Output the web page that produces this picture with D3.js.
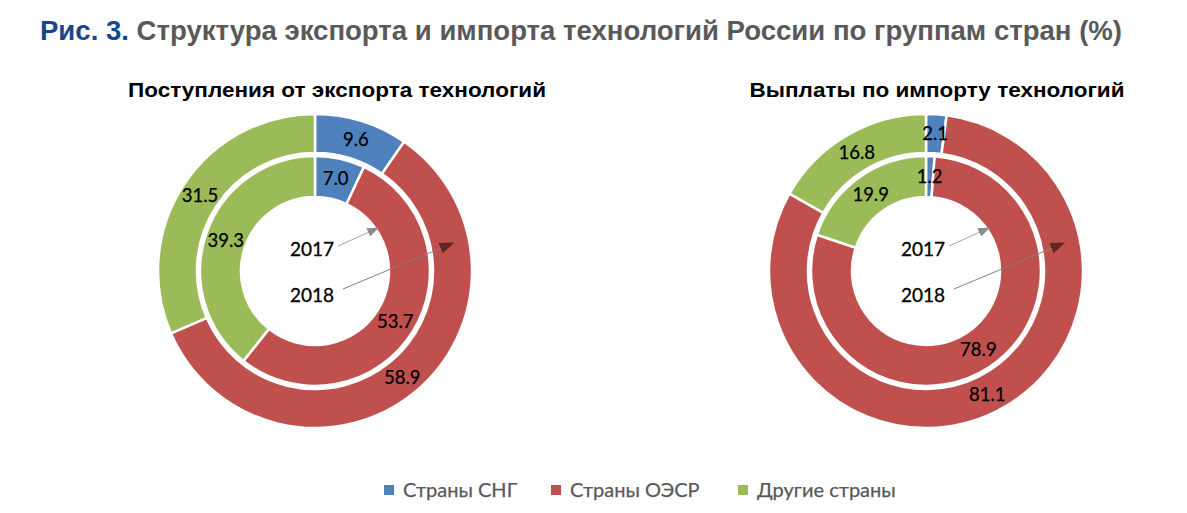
<!DOCTYPE html>
<html><head><meta charset="utf-8">
<script src="https://cdn.jsdelivr.net/npm/d3@7"></script>
<style>body{margin:0;background:#fff}svg{display:block}</style>
</head><body>
<svg id="c" width="1187" height="513"></svg>
<script>
const categories = ["Страны СНГ", "Страны ОЭСР", "Другие страны"];
const colors = ["#4F81BD", "#C0504D", "#9BBB59"];
const exportTitle = "Поступления от экспорта технологий";
const importTitle = "Выплаты по импорту технологий";
const export2017 = [7.0, 53.7, 39.3];
const export2018 = [9.6, 58.9, 31.5];
const import2017 = [1.2, 78.9, 19.9];
const import2018 = [2.1, 81.1, 16.8];
const years = ["2017", "2018"];

const svg = d3.select("#c");
function fitText(sel, w){ sel.attr("textLength", w).attr("lengthAdjust","spacingAndGlyphs"); }

// title
const t = svg.append("text").attr("x",40).attr("y",40)
  .attr("font-family","Liberation Sans, Arial, sans-serif").attr("font-weight","bold").attr("font-size",27);
t.append("tspan").attr("fill","#17468A").text("Рис. 3.");
t.append("tspan").attr("fill","#595959").text(" Структура экспорта и импорта технологий России по группам стран (%)");
fitText(t, 1082);

const pie = d3.pie().sort(null).value(d=>d).startAngle(0).endAngle(2*Math.PI);
const font = "Lato, Carlito, Calibri, sans-serif";

svg.append("defs").selectAll("marker").data([["ag","#8C8C8C",12,9],["ar","#632523",15,11]]).join("marker")
  .attr("id",d=>d[0]).attr("viewBox","0 0 10 10").attr("refX",9).attr("refY",5)
  .attr("markerWidth",d=>d[2]).attr("markerHeight",d=>d[3]).attr("markerUnits","userSpaceOnUse").attr("orient","auto")
  .attr("preserveAspectRatio","none")
  .append("path").attr("d","M0,0 L10,5 L0,10 Z").attr("fill",d=>d[1]);

function donut(cx, cy, title, titleX, titleW, inner, outer){
  const g = svg.append("g").attr("transform",`translate(${cx},${cy})`);
  const tt = svg.append("text").attr("x",titleX).attr("y",97).attr("text-anchor","middle")
    .attr("font-family","Liberation Sans, Arial, sans-serif").attr("font-weight","bold").attr("font-size",21)
    .attr("fill","#000").text(title);
  fitText(tt, titleW);
  const rings = [{data:outer, r0:118, r1:157},{data:inner, r0:74, r1:115}];
  rings.forEach(ring=>{
    const arc = d3.arc().innerRadius(ring.r0).outerRadius(ring.r1);
    const arcs = pie(ring.data);
    g.selectAll(null).data(arcs).join("path").attr("d",arc)
      .attr("fill",(d,i)=>colors[i]).attr("stroke","#fff").attr("stroke-width",2.5);
    g.selectAll(null).data(arcs).join("text")
      .attr("transform",d=>`translate(${arc.centroid(d)})`)
      .attr("text-anchor","middle").attr("dy","0.36em")
      .attr("font-family",font).attr("font-size",18.5).attr("fill","#000")
      .attr("stroke","#000").attr("stroke-width",0.25)
      .text(d=>d3.format(".1f")(d.data));
  });
  // year labels + arrows
  g.append("text").attr("x",-3).attr("y",-22).attr("text-anchor","middle").attr("dy","0.36em")
    .attr("font-family",font).attr("font-size",19).attr("stroke","#000").attr("stroke-width",0.3).text(years[0]);
  g.append("text").attr("x",-3).attr("y",24).attr("text-anchor","middle").attr("dy","0.36em")
    .attr("font-family",font).attr("font-size",19).attr("stroke","#000").attr("stroke-width",0.3).text(years[1]);
  g.append("line").attr("x1",23).attr("y1",-25).attr("x2",63).attr("y2",-43)
    .attr("stroke","#A6A6A6").attr("stroke-width",1).attr("marker-end","url(#ag)");
  g.append("line").attr("x1",28).attr("y1",18).attr("x2",138).attr("y2",-28)
    .attr("stroke","#8C7B7B").attr("stroke-width",1).attr("marker-end","url(#ar)");
}
donut(315, 271, exportTitle, 337, 418, export2017, export2018);
donut(926, 271, importTitle, 937, 375, import2017, import2018);

// legend
const legX = [384, 551, 738];
const lg = svg.append("g");
categories.forEach((c,i)=>{
  lg.append("rect").attr("x",legX[i]).attr("y",485).attr("width",10).attr("height",10).attr("fill",colors[i]);
  lg.append("text").attr("x",legX[i]+19).attr("y",490).attr("dy","0.36em")
    .attr("font-family",font).attr("font-size",20).attr("fill","#595959")
    .attr("stroke","#595959").attr("stroke-width",0.25).text(c);
});
</script>
</body></html>
